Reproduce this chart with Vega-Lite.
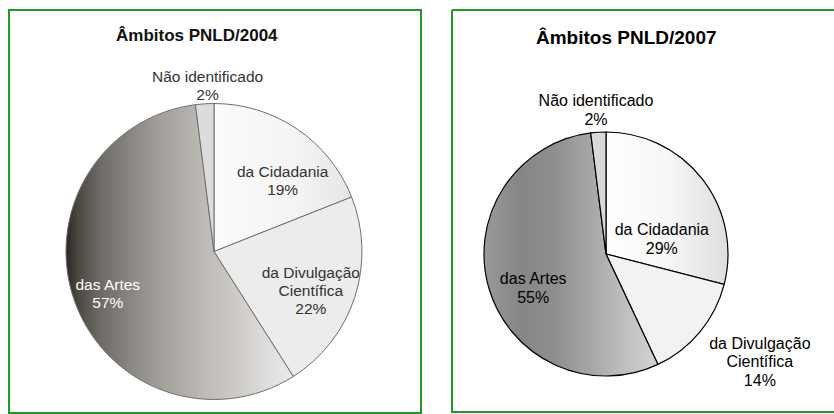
{
  "$schema": "https://vega.github.io/schema/vega-lite/v6.json",
  "background": "white",
  "padding": {"left": 8, "top": 9, "right": 0, "bottom": 0},
  "datasets": {
    "pnld2004": [
      {"ambito": "da Cidadania", "pct": 19},
      {"ambito": "da Divulgação Científica", "pct": 22},
      {"ambito": "das Artes", "pct": 57},
      {"ambito": "Não identificado", "pct": 2}
    ],
    "pnld2007": [
      {"ambito": "da Cidadania", "pct": 29},
      {"ambito": "da Divulgação Científica", "pct": 14},
      {"ambito": "das Artes", "pct": 55},
      {"ambito": "Não identificado", "pct": 2}
    ]
  },
  "config": {
    "view": {"stroke": "#229922", "strokeWidth": 2},
    "font": "Liberation Sans"
  },
  "spacing": 31,
  "bounds": "flush",
  "hconcat": [
    {
      "width": 412,
      "height": 403,
      "view": {"stroke": "#229922", "strokeWidth": 2},
      "title": {"text": "Âmbitos PNLD/2004", "frame": "group", "anchor": "start", "dx": 107, "offset": -48, "baseline": "alphabetic", "fontSize": 17, "fontWeight": "bold", "font": "Liberation Sans", "color": "#111111"},
      "data": {"name": "pnld2004"},
      "transform": [
        {"stack": "pct", "groupby": [], "as": ["v0", "v1"]},
        {"calculate": "(datum.v0 + datum.v1) / 2", "as": "meio"},
        {"calculate": "datum.ambito == 'da Divulgação Científica' ? ['da Divulgação', 'Científica', datum.pct + '%'] : [datum.ambito, datum.pct + '%']", "as": "rotulo"}
      ],
      "layer": [
        {
          "mark": {"type": "arc", "outerRadius": 148, "stroke": "#6f6f6f", "strokeWidth": 1, "xOffset": -1, "yOffset": 40},
          "encoding": {
            "theta": {"field": "v0", "type": "quantitative", "scale": {"domain": [0, 100]}},
            "theta2": {"field": "v1"},
            "fill": {
              "condition": [
                {"test": "datum.ambito == 'das Artes'", "value": {"gradient": "linear", "x1": 0, "y1": 0, "x2": 1, "y2": 0, "stops": [
                  {"offset": 0, "color": "#2a2723"}, {"offset": 0.05, "color": "#4a463f"}, {"offset": 0.15, "color": "#6e6b66"},
                  {"offset": 0.38, "color": "#9d9a95"}, {"offset": 0.6, "color": "#bdbab5"}, {"offset": 0.77, "color": "#d0cdca"},
                  {"offset": 0.9, "color": "#e0dfdd"}, {"offset": 1, "color": "#ebeae8"}]}},
                {"test": "datum.ambito == 'da Cidadania'", "value": {"gradient": "linear", "x1": 0, "y1": 0, "x2": 1, "y2": 0, "stops": [
                  {"offset": 0, "color": "#fbfbfb"}, {"offset": 0.6, "color": "#f4f4f4"}, {"offset": 1, "color": "#e6e6e6"}]}},
                {"test": "datum.ambito == 'da Divulgação Científica'", "value": "#ececec"}
              ],
              "value": "#dcdcdc"
            }
          }
        },
        {
          "transform": [{"filter": "datum.ambito == 'da Cidadania'"}],
          "mark": {"type": "text", "radius": 99, "dx": 13, "dy": 2, "xOffset": -1, "yOffset": 40, "fontSize": 15.5, "lineHeight": 18, "baseline": "middle", "align": "center", "color": "#333333"},
          "encoding": {"theta": {"field": "meio", "type": "quantitative", "scale": {"domain": [0, 100]}}, "text": {"field": "rotulo"}}
        },
        {
          "transform": [{"filter": "datum.ambito == 'da Divulgação Científica'"}],
          "mark": {"type": "text", "radius": 105, "dx": -3, "dy": -11, "xOffset": -1, "yOffset": 40, "fontSize": 15.5, "lineHeight": 18, "baseline": "middle", "align": "center", "color": "#333333"},
          "encoding": {"theta": {"field": "meio", "type": "quantitative", "scale": {"domain": [0, 100]}}, "text": {"field": "rotulo"}}
        },
        {
          "transform": [{"filter": "datum.ambito == 'das Artes'"}],
          "mark": {"type": "text", "radius": 115, "dx": 2, "dy": -5, "xOffset": -1, "yOffset": 40, "fontSize": 15.5, "lineHeight": 18, "baseline": "middle", "align": "center", "color": "#ffffff"},
          "encoding": {"theta": {"field": "meio", "type": "quantitative", "scale": {"domain": [0, 100]}}, "text": {"field": "rotulo"}}
        },
        {
          "transform": [{"filter": "datum.ambito == 'Não identificado'"}],
          "mark": {"type": "text", "radius": 166, "dx": 4, "dy": -9, "xOffset": -1, "yOffset": 40, "fontSize": 15.5, "lineHeight": 18, "baseline": "middle", "align": "center", "color": "#333333"},
          "encoding": {"theta": {"field": "meio", "type": "quantitative", "scale": {"domain": [0, 100]}}, "text": {"field": "rotulo"}}
        }
      ]
    },
    {
      "width": 382,
      "height": 402,
      "view": {"stroke": "#229922", "strokeWidth": 2, "strokeDash": [382, 402, 784, 0]},
      "title": {"text": "Âmbitos PNLD/2007", "frame": "group", "anchor": "start", "dx": 84, "offset": -53, "baseline": "alphabetic", "fontSize": 19, "fontWeight": "bold", "font": "Liberation Sans", "color": "#000000"},
      "data": {"name": "pnld2007"},
      "transform": [
        {"stack": "pct", "groupby": [], "as": ["v0", "v1"]},
        {"calculate": "(datum.v0 + datum.v1) / 2", "as": "meio"},
        {"calculate": "datum.ambito == 'da Divulgação Científica' ? ['da Divulgação', 'Científica', datum.pct + '%'] : [datum.ambito, datum.pct + '%']", "as": "rotulo"}
      ],
      "layer": [
        {
          "mark": {"type": "arc", "outerRadius": 122, "stroke": "#000000", "strokeWidth": 1.2, "xOffset": -37, "yOffset": 43},
          "encoding": {
            "theta": {"field": "v0", "type": "quantitative", "scale": {"domain": [0, 100]}},
            "theta2": {"field": "v1"},
            "fill": {
              "condition": [
                {"test": "datum.ambito == 'das Artes'", "value": {"gradient": "linear", "x1": 0, "y1": 0, "x2": 1, "y2": 0, "stops": [
                  {"offset": 0, "color": "#9a9a9a"}, {"offset": 0.2, "color": "#868686"}, {"offset": 0.4, "color": "#8e8e8e"},
                  {"offset": 0.65, "color": "#ababab"}, {"offset": 0.85, "color": "#c4c4c4"}, {"offset": 1, "color": "#d4d4d4"}]}},
                {"test": "datum.ambito == 'da Cidadania'", "value": {"gradient": "linear", "x1": 0, "y1": 0, "x2": 1, "y2": 0, "stops": [
                  {"offset": 0, "color": "#ffffff"}, {"offset": 0.5, "color": "#f7f7f7"}, {"offset": 1, "color": "#dedede"}]}},
                {"test": "datum.ambito == 'da Divulgação Científica'", "value": "#f2f2f2"}
              ],
              "value": "#d9d9d9"
            }
          }
        },
        {
          "transform": [{"filter": "datum.ambito == 'da Cidadania'"}],
          "mark": {"type": "text", "radius": 58, "dx": 10, "dy": 12, "xOffset": -37, "yOffset": 43, "fontSize": 16, "lineHeight": 18.5, "baseline": "middle", "align": "center", "color": "#000000"},
          "encoding": {"theta": {"field": "meio", "type": "quantitative", "scale": {"domain": [0, 100]}}, "text": {"field": "rotulo"}}
        },
        {
          "transform": [{"filter": "datum.ambito == 'da Divulgação Científica'"}],
          "mark": {"type": "text", "radius": 188, "dx": 9, "dy": -30, "xOffset": -37, "yOffset": 43, "fontSize": 16, "lineHeight": 18.5, "baseline": "middle", "align": "center", "color": "#000000"},
          "encoding": {"theta": {"field": "meio", "type": "quantitative", "scale": {"domain": [0, 100]}}, "text": {"field": "rotulo"}}
        },
        {
          "transform": [{"filter": "datum.ambito == 'das Artes'"}],
          "mark": {"type": "text", "radius": 80, "dx": 4, "dy": 3, "xOffset": -37, "yOffset": 43, "fontSize": 16, "lineHeight": 18.5, "baseline": "middle", "align": "center", "color": "#000000"},
          "encoding": {"theta": {"field": "meio", "type": "quantitative", "scale": {"domain": [0, 100]}}, "text": {"field": "rotulo"}}
        },
        {
          "transform": [{"filter": "datum.ambito == 'Não identificado'"}],
          "mark": {"type": "text", "radius": 144, "dx": -1, "dy": -9, "xOffset": -37, "yOffset": 43, "fontSize": 16, "lineHeight": 18.5, "baseline": "middle", "align": "center", "color": "#000000"},
          "encoding": {"theta": {"field": "meio", "type": "quantitative", "scale": {"domain": [0, 100]}}, "text": {"field": "rotulo"}}
        }
      ]
    }
  ]
}
